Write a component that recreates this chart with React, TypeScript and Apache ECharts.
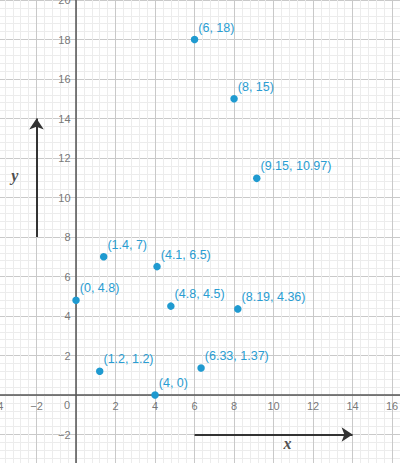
import React, { useEffect, useRef } from "react";
import * as echarts from "echarts";

// Axis extents and tick step (units)
const X_MIN = -4;
const X_MAX = 18;
const Y_MIN = -4;
const Y_MAX = 20;
const TICK_STEP = 2;
const MINOR_SPLITS = 5;

// Tick labels (drawn next to the axis lines, Desmos style)
const xTickValues = [-4, -2, 2, 4, 6, 8, 10, 12, 14, 16];
const yTickValues = [-2, 2, 4, 6, 8, 10, 12, 14, 16, 18, 20];

// Points
const pointX = [6, 8, 9.15, 1.4, 4.1, 0, 4.8, 8.19, 1.2, 6.33, 4];
const pointY = [18, 15, 10.97, 7, 6.5, 4.8, 4.5, 4.36, 1.2, 1.37, 0];
const pointLabels = [
  "(6, 18)",
  "(8, 15)",
  "(9.15, 10.97)",
  "(1.4, 7)",
  "(4.1, 6.5)",
  "(0, 4.8)",
  "(4.8, 4.5)",
  "(8.19, 4.36)",
  "(1.2, 1.2)",
  "(6.33, 1.37)",
  "(4, 0)",
];

// Direction arrows (from, to)
const xArrow = [
  [6, -2],
  [14, -2],
];
const yArrow = [
  [-2, 8],
  [-2, 14],
];

// Axis-name texts and origin label
const nameTexts = ["x", "y"];
const namePos = [
  [10.7, -2.45],
  [-3.1, 11.1],
];
const originText = "0";
const originPos = [-0.45, -0.5];

const BLUE = "#1f9ad0";
const LABEL_FONT = "'Liberation Sans', Arial, sans-serif";
const TICK_COLOR = "#555";

function fmt(v: number): string {
  return String(v).replace("-", "\u2212");
}

export default function App() {
  const ref = useRef<HTMLDivElement>(null);

  useEffect(() => {
    document.body.style.margin = "0";
    if (!ref.current) return;
    const chart = echarts.init(ref.current, null, { renderer: "svg" });

    const axisCommon = {
      type: "value" as const,
      interval: TICK_STEP,
      axisLine: {
        show: true,
        onZero: true,
        lineStyle: { color: "#555", width: 1.5 },
      },
      axisTick: { show: false },
      axisLabel: { show: false },
      minorTick: { show: false, splitNumber: MINOR_SPLITS },
      splitLine: { show: true, lineStyle: { color: "#c9c9c9", width: 1 } },
      minorSplitLine: { show: true, lineStyle: { color: "#ececec", width: 1 } },
    };

    const textSeries = {
      type: "scatter" as const,
      symbolSize: 1,
      itemStyle: { color: "rgba(0,0,0,0)" },
      silent: true,
      emphasis: { disabled: true },
      clip: false,
    };

    chart.setOption({
      animation: false,
      grid: {
        left: -3,
        right: -31.6,
        top: 0,
        bottom: -11,
        containLabel: false,
        outerBoundsMode: "none",
      },
      xAxis: { ...axisCommon, min: X_MIN, max: X_MAX },
      yAxis: { ...axisCommon, min: Y_MIN, max: Y_MAX },
      series: [
        {
          ...textSeries,
          name: "xTicks",
          data: xTickValues.map((v) => [v, 0]),
          label: {
            show: true,
            position: "bottom",
            distance: 5,
            color: TICK_COLOR,
            fontSize: 11,
            fontFamily: LABEL_FONT,
            formatter: (p: any) => fmt(p.value[0]),
          },
        },
        {
          ...textSeries,
          name: "yTicks",
          data: yTickValues.map((v) => [0, v]),
          label: {
            show: true,
            position: "left",
            distance: 5,
            color: TICK_COLOR,
            fontSize: 11,
            fontFamily: LABEL_FONT,
            formatter: (p: any) => fmt(p.value[1]),
          },
        },
        {
          ...textSeries,
          name: "origin",
          data: [[originPos[0], originPos[1], originText]],
          label: {
            show: true,
            position: "inside",
            color: TICK_COLOR,
            fontSize: 11,
            fontFamily: LABEL_FONT,
            formatter: (p: any) => p.value[2],
          },
        },
        {
          ...textSeries,
          name: "axisNames",
          data: nameTexts.map((t, i) => [namePos[i][0], namePos[i][1], t]),
          label: {
            show: true,
            position: "inside",
            color: "#222",
            fontSize: 16,
            fontStyle: "italic",
            fontWeight: "bold",
            fontFamily: "'Liberation Serif', 'Times New Roman', serif",
            formatter: (p: any) => p.value[2],
          },
        },
        {
          type: "scatter",
          name: "points",
          symbolSize: 7.5,
          itemStyle: { color: BLUE, opacity: 1 },
          data: pointX.map((x, i) => [x, pointY[i]]),
          label: {
            show: true,
            position: "right",
            distance: 0,
            offset: [0, -12],
            color: "#2a9dd2",
            fontSize: 12.5,
            fontFamily: LABEL_FONT,
            formatter: (p: any) => pointLabels[p.dataIndex],
          },
          emphasis: { disabled: true },
          silent: true,
          z: 5,
          markLine: {
            silent: true,
            animation: false,
            symbol: ["none", "arrow"],
            symbolSize: 11,
            label: { show: false },
            lineStyle: { color: "#333", width: 2, type: "solid" },
            emphasis: { disabled: true },
            data: [
              [{ coord: xArrow[0] }, { coord: xArrow[1] }],
              [{ coord: yArrow[0] }, { coord: yArrow[1] }],
            ],
          },
        },
      ],
    });

    return () => {
      chart.dispose();
    };
  }, []);

  return <div ref={ref} style={{ width: 400, height: 463 }} />;
}
